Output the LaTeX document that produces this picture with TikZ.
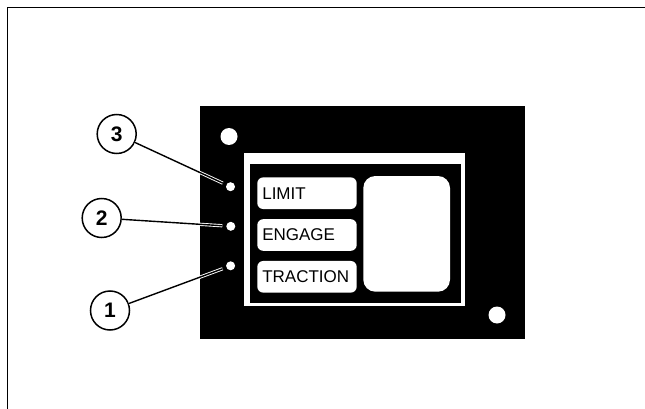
\documentclass[tikz,border=0pt]{standalone}
\usepackage{fontspec}
\setmainfont{Liberation Sans}
\usepackage{tikz}
\usetikzlibrary{positioning}
\tikzset{
  panel/.style={fill=black, draw=none},
  hole/.style={circle, fill=white, inner sep=0pt, minimum size=17pt},
  led/.style={circle, fill=white, inner sep=0pt, minimum size=9pt},
  lbl/.style={fill=white, rounded corners=6pt, minimum width=99.4pt,
              minimum height=31.7pt, text width=89.4pt, inner xsep=5pt,
              align=left, font=\fontsize{17}{18}\selectfont},
  callout/.style={circle, draw=black, line width=1.5pt, fill=white,
                  minimum size=39pt, inner sep=0pt,
                  font=\bfseries\fontsize{21}{22}\selectfont},
  leader/.style={line width=1.4pt, shorten >=3.8pt,
                 preaction={draw=white, line width=3.2pt}}
}
\begin{document}
\begin{tikzpicture}[x=1pt, y=-1pt, node distance=9.7pt]
\useasboundingbox (0,0) rectangle (645,409);
% frame
\draw[line width=1.3pt] (7.3,409) -- (7.3,7.3) -- (645,7.3);
% panel
\fill[panel] (199.5,106) rectangle (525,338.5);
\node[hole] (h1) at (229,136.5) {};
\node[hole] (h2) at (497,315) {};
\fill[white] (244.4,153) rectangle (465.4,306);
\fill[black] (250,164.3) rectangle (460.8,302.5);
% labels
\node[lbl] (limit) at (307,193.2) {LIMIT};
\node[lbl, below=of limit] (engage) {ENGAGE};
\node[lbl, below=of engage] (traction) {TRACTION};
\fill[white, rounded corners=12pt] (363.3,176) rectangle (450,291.7);
% lamps
\node[led] (l3) at (230.5,186.7) {};
\node[led] (l2) at (230.8,226.3) {};
\node[led] (l1) at (230.6,265.8) {};
% callouts
\node[callout] (c3) at (116.7,134) {3};
\node[callout] (c2) at (101.7,218) {2};
\node[callout] (c1) at (110,310.5) {1};
\draw[leader] (c3) -- (l3);
\draw[leader] (c2) -- (l2);
\draw[leader] (c1) -- (l1);
\end{tikzpicture}
\end{document}
